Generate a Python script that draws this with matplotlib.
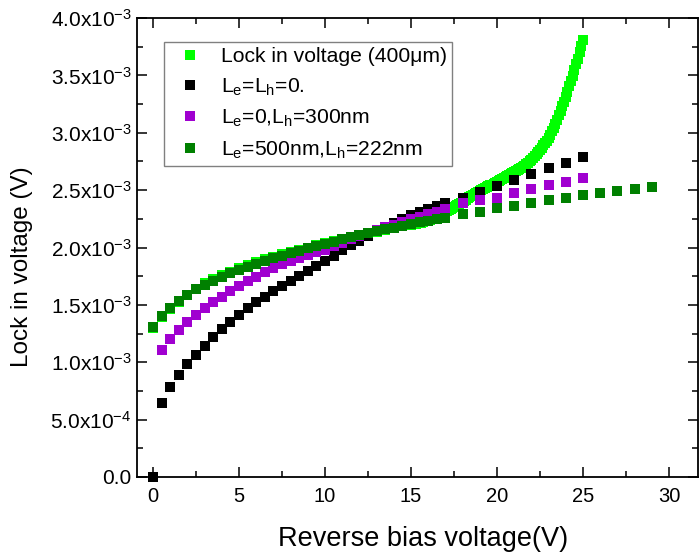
import numpy as np
import matplotlib
matplotlib.use("Agg")
import matplotlib.pyplot as plt
from matplotlib.ticker import MultipleLocator, FixedLocator

plt.rcParams['font.family'] = ['Liberation Sans', 'DejaVu Sans']
plt.rcParams['mathtext.fontset'] = 'custom'
plt.rcParams['mathtext.rm'] = 'Liberation Sans'
plt.rcParams['mathtext.it'] = 'Liberation Sans:italic'
plt.rcParams['mathtext.bf'] = 'Liberation Sans:bold'

# ---- data (lock-in voltage in units of 1e-3 V) ----
# measured lock-in signal: coarse grid below 15 V, fine grid above
meas_v = np.concatenate([np.arange(0, 15.01, 0.5), np.round(np.arange(15.1, 25.001, 0.1), 1)])
meas_mv = [
    1.300, 1.390, 1.460, 1.525, 1.585, 1.640, 1.690, 1.725, 1.760, 1.790,
    1.820, 1.848, 1.874, 1.898, 1.920, 1.942, 1.962, 1.982, 2.000, 2.018,
    2.036, 2.054, 2.071, 2.088, 2.104, 2.120, 2.136, 2.152, 2.168, 2.184,
    2.200,
    2.203, 2.205, 2.208, 2.210, 2.213, 2.217, 2.222, 2.227, 2.232, 2.237,
    2.243, 2.249, 2.256, 2.263, 2.270, 2.277, 2.285, 2.293, 2.301, 2.310,
    2.318, 2.326, 2.334, 2.342, 2.350, 2.359, 2.368, 2.377, 2.386, 2.395,
    2.406, 2.417, 2.428, 2.439, 2.450, 2.459, 2.468, 2.477, 2.486, 2.495,
    2.503, 2.511, 2.519, 2.527, 2.535, 2.542, 2.549, 2.556, 2.563, 2.570,
    2.578, 2.587, 2.595, 2.604, 2.612, 2.620, 2.629, 2.637, 2.646, 2.655,
    2.664, 2.673, 2.682, 2.692, 2.702, 2.714, 2.726, 2.738, 2.751, 2.765,
    2.779, 2.795, 2.813, 2.831, 2.850, 2.869, 2.889, 2.910, 2.932, 2.955,
    2.983, 3.013, 3.045, 3.079, 3.115, 3.152, 3.191, 3.231, 3.272, 3.315,
    3.359, 3.404, 3.450, 3.497, 3.545, 3.595, 3.647, 3.700, 3.754, 3.810,
]

# simulation Le = Lh = 0
sim0_v = [0, 0.5, 1, 1.5, 2, 2.5, 3, 3.5, 4, 4.5, 5, 5.5, 6, 6.5, 7, 7.5, 8, 8.5,
          9, 9.5, 10, 10.5, 11, 11.5, 12, 12.5, 13, 13.5, 14, 14.5, 15, 15.5,
          16, 16.5, 17, 18, 19, 20, 21, 22, 23, 24, 25]
sim0_mv = [0.0, 0.648, 0.781, 0.886, 0.982, 1.063, 1.142, 1.217, 1.287, 1.353,
           1.412, 1.470, 1.522, 1.571, 1.621, 1.667, 1.711, 1.752, 1.795, 1.839,
           1.885, 1.930, 1.975, 2.020, 2.060, 2.100, 2.140, 2.180, 2.215, 2.250,
           2.280, 2.310, 2.335, 2.360, 2.385, 2.434, 2.481, 2.539, 2.588, 2.638,
           2.696, 2.739, 2.791]

# simulation Le = 0, Lh = 300 nm
sim1_v = [0.5, 1, 1.5, 2, 2.5, 3, 3.5, 4, 4.5, 5, 5.5, 6, 6.5, 7, 7.5, 8, 8.5,
          9, 9.5, 10, 10.5, 11, 11.5, 12, 12.5, 13, 13.5, 14, 14.5, 15, 15.5,
          16, 16.5, 17, 18, 19, 20, 21, 22, 23, 24, 25]
sim1_mv = [1.107, 1.203, 1.281, 1.353, 1.412, 1.470, 1.522, 1.571, 1.621, 1.664,
           1.708, 1.746, 1.784, 1.819, 1.856, 1.885, 1.912, 1.937, 1.960, 1.982,
           2.010, 2.040, 2.070, 2.100, 2.125, 2.150, 2.175, 2.200, 2.225, 2.250,
           2.270, 2.290, 2.310, 2.333, 2.385, 2.410, 2.435, 2.472, 2.510, 2.545,
           2.574, 2.609]

# simulation Le = 500 nm, Lh = 222 nm
sim2_v = [0, 0.5, 1, 1.5, 2, 2.5, 3, 3.5, 4, 4.5, 5, 5.5, 6, 6.5, 7, 7.5, 8, 8.5,
          9, 9.5, 10, 10.5, 11, 11.5, 12, 12.5, 13, 13.5, 14, 14.5, 15, 15.5,
          16, 16.5, 17, 18, 19, 20, 21, 22, 23, 24, 25, 26, 27, 28, 29]
sim2_mv = [1.310, 1.403, 1.470, 1.534, 1.586, 1.636, 1.675, 1.710, 1.745, 1.776,
           1.805, 1.833, 1.860, 1.885, 1.908, 1.930, 1.951, 1.972, 1.992, 2.011,
           2.030, 2.050, 2.070, 2.090, 2.108, 2.125, 2.142, 2.158, 2.174, 2.190,
           2.205, 2.220, 2.234, 2.246, 2.258, 2.289, 2.312, 2.341, 2.365, 2.391,
           2.414, 2.434, 2.458, 2.478, 2.495, 2.510, 2.530]

labels = ['Lock in voltage (400\u03bcm)',
          r'L$_\mathrm{e}$=L$_\mathrm{h}$=0.',
          r'L$_\mathrm{e}$=0,L$_\mathrm{h}$=300nm',
          r'L$_\mathrm{e}$=500nm,L$_\mathrm{h}$=222nm']
colors = ['#00FF00', '#000000', '#A000D0', '#008000']

fig = plt.figure(figsize=(6.99, 5.59), dpi=100)
ax = fig.add_axes([137/699, 1 - 477/559, 561/699, 459/559])

series = [(meas_v, meas_mv), (sim0_v, sim0_mv), (sim1_v, sim1_mv), (sim2_v, sim2_mv)]
for (xv, yv), c, lab in zip(series, colors, labels):
    ax.plot(xv, np.asarray(yv) * 1e-3, ls='none', marker='s', ms=6.8,
            mew=0, color=c, label=lab, clip_on=False)

ax.set_xlim(-0.93, 31.69)
ax.set_ylim(0, 4.0e-3)

ax.xaxis.set_major_locator(MultipleLocator(5))
ax.xaxis.set_minor_locator(MultipleLocator(2.5))
yt = [0, 0.5e-3, 1.0e-3, 1.5e-3, 2.0e-3, 2.5e-3, 3.0e-3, 3.5e-3, 4.0e-3]
ytl = ['0.0', r'5.0x10$^{-4}$', r'1.0x10$^{-3}$', r'1.5x10$^{-3}$', r'2.0x10$^{-3}$',
       r'2.5x10$^{-3}$', r'3.0x10$^{-3}$', r'3.5x10$^{-3}$', r'4.0x10$^{-3}$']
ax.yaxis.set_major_locator(FixedLocator(yt))
ax.set_yticklabels(ytl)
ax.yaxis.set_minor_locator(MultipleLocator(0.25e-3))

ax.tick_params(which='both', direction='in', top=True, right=True, width=1.1)
ax.tick_params(which='major', length=7, pad=6)
ax.tick_params(axis='x', which='major', labelsize=14.5, pad=7)
ax.tick_params(axis='y', which='major', labelsize=15, pad=4)
ax.tick_params(which='minor', length=4)
for s in ax.spines.values():
    s.set_linewidth(1.3)

ax.set_xlabel('Reverse bias voltage(V)', fontsize=19.5)
ax.xaxis.set_label_coords(0.51, -(539 - 477) / 459)
ax.set_ylabel('Lock in voltage (V)', fontsize=17.5)
ax.yaxis.set_label_coords(-(137 - 22) / 561, 1 - (267 - 18) / 459)
ax.xaxis.label.set_va('center')
ax.yaxis.label.set_va('center')

leg = ax.legend(loc='upper left', bbox_to_anchor=((164 - 137) / 561, 1 - (42 - 18) / 459),
                fontsize=15.2, frameon=True, fancybox=False, edgecolor='#808080',
                framealpha=1, handlelength=2.0, handletextpad=0.45, borderpad=0.25,
                labelspacing=0.48, markerscale=1.0, borderaxespad=0)
leg.get_frame().set_linewidth(1.0)

fig.savefig('out.png', dpi=100)
